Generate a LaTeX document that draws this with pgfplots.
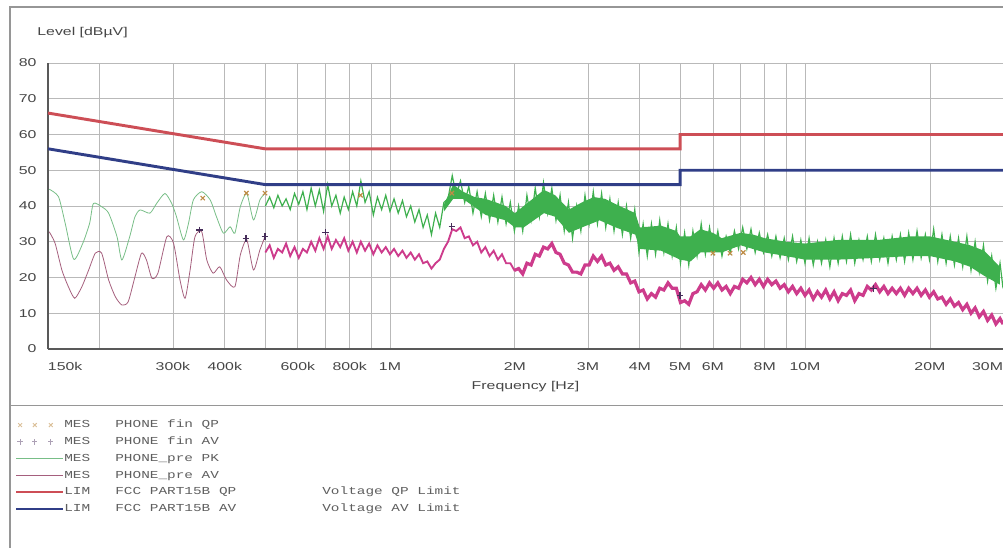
\documentclass[border=0pt]{standalone}
\usepackage{fontspec}
\setmainfont{Liberation Sans}[FakeStretch=1.4]
\newfontfamily\legfont{Liberation Mono}[FakeStretch=1.35]
\usepackage{pgfplots}
\usepackage{pgfplotstable}
\pgfplotsset{compat=1.18}

\definecolor{qpred}{RGB}{205,78,86}
\definecolor{avblue}{RGB}{48,62,135}
\definecolor{pkgreen}{RGB}{62,176,78}
\definecolor{pklight}{RGB}{120,190,135}
\definecolor{avmag}{RGB}{205,60,140}
\definecolor{avlight}{RGB}{165,95,125}
\definecolor{qpmark}{RGB}{190,140,70}
\definecolor{avmark}{RGB}{70,45,90}
\definecolor{gridc}{RGB}{185,185,185}
\definecolor{txt}{RGB}{70,70,70}
\definecolor{legtxt}{RGB}{95,95,95}
\definecolor{frame}{RGB}{150,150,150}

\pgfplotsset{
  markslegend/.style={legend image code/.code={%
    \draw[##1] plot coordinates {(3pt,0pt) (14pt,0pt) (26pt,0pt)};
    \path[draw=none, fill=none] (0pt,0pt) rectangle (35.25pt,0.1pt);}},
  linelegend/.style={legend image code/.code={%
    \draw[##1] (0pt,0pt) -- (35.25pt,0pt);}},
}

% low range, 150 kHz - 500 kHz (MHz, dBuV)
\pgfplotstableread{
f pk
0.151 44.7
0.159 42.6
0.165 35.2
0.173 25.1
0.182 29.6
0.189 35.2
0.193 40.7
0.202 39.8
0.210 38.0
0.220 31.4
0.226 24.9
0.236 31.4
0.243 37.0
0.250 38.9
0.264 38.0
0.274 40.7
0.287 43.5
0.298 40.7
0.306 37.0
0.318 30.5
0.327 35.1
0.336 41.7
0.352 44.0
0.369 41.7
0.382 37.0
0.397 32.4
0.412 34.2
0.423 32.4
0.436 39.8
0.452 43.5
0.469 36.1
0.486 41.7
0.500 43.5
}\lowpk

\pgfplotstableread{
f av
0.151 32.8
0.156 29.6
0.162 22.1
0.168 17.4
0.174 14.2
0.181 17.4
0.188 22.1
0.195 26.8
0.202 26.8
0.210 19.3
0.218 14.6
0.226 12.3
0.234 13.2
0.243 20.2
0.252 26.8
0.259 24.9
0.267 19.8
0.276 21.2
0.290 31.4
0.301 29.6
0.312 19.3
0.321 14.2
0.330 22.1
0.339 31.4
0.352 32.8
0.362 24.9
0.375 21.2
0.389 23.0
0.404 19.3
0.423 17.4
0.436 26.3
0.452 30.5
0.469 22.1
0.486 27.7
0.500 31.4
}\lowav

% 500 kHz - 30 MHz
\pgfplotstableread{
f pk av
0.501 40 27
0.513 42.5 29
0.525 39.5 25.5
0.537 43 28
0.550 40 27
0.562 42 29.5
0.575 39 26
0.589 43.5 28.5
0.603 40.5 25.5
0.617 44 28
0.631 39 27
0.646 45 30
0.661 40 27.5
0.676 44.5 31
0.692 38.5 28
0.708 46 31.5
0.724 40 28
0.741 43 30.5
0.759 38 28.5
0.776 42.5 31
0.794 39 27.5
0.813 44 30
0.832 40 27
0.851 47 30
0.871 41 27.5
0.891 44 29.5
0.912 37.5 26.5
0.933 42.5 29
0.955 39 27
0.977 43 28.5
1.000 38.5 26.5
1.023 42 28
1.047 38 26
1.072 41.5 27.5
1.096 37 25.5
1.122 40 27
1.148 35.5 25
1.175 39 26.5
1.202 34 24
1.230 37.5 24.5
1.259 32 22.5
1.288 38 24
1.318 34 25
1.349 41 28
1.380 42 30
1.413 48.5 33.5
1.445 43 33
1.479 47 34
1.514 41 31
1.549 45.5 31.5
1.585 38 29
1.622 44 30
1.660 37 27
1.698 43.5 28.5
1.738 36 26
1.778 43 27.5
1.820 35.5 25
1.862 42.5 26.5
1.905 35 24
1.950 41 24
1.995 33 22
2.042 40 22.5
2.089 33 21
2.138 43 24
2.188 36 23.5
2.239 45 26.5
2.291 37 26
2.344 46.5 28.5
2.399 38 28
2.455 45 29.5
2.512 36 27
2.570 43 26.5
2.630 33 24
2.692 41 23.5
2.754 31 21.5
2.818 40 21.5
2.884 33 21
2.951 43 23.5
3.020 35 23.5
3.090 44 26
3.162 35 24.5
3.236 43.5 26
3.311 34 23.5
3.388 42 24
3.467 33 22
3.548 41 23
3.631 32 21
3.715 40 21
3.802 31 18.5
3.890 39 19
3.981 27 16
4.074 35 16.5
4.169 26 14
4.266 35 15.5
4.365 26.5 14.5
4.467 36 17
4.571 27 16.5
4.677 35 18.5
4.786 26 17
4.898 34 17
5.012 24 13
5.129 32.5 13.5
5.248 23.5 12.5
5.370 33 15.5
5.495 26 16
5.623 35 18
5.754 26.5 16.5
5.888 34 18.5
6.026 27 17
6.166 33 18.5
6.310 26 16.5
6.457 31.5 17.5
6.607 27 15.5
6.761 33 17.5
6.918 28 17
7.079 34 19.5
7.244 28 18.5
7.413 33.5 20
7.586 27 18
7.762 32.5 19.5
7.943 27 17.5
8.128 32 19.5
8.318 26 18
8.511 31.5 19
8.710 25.5 17
8.913 31 18
9.120 25 16
9.333 31.5 17.5
9.550 24.5 15.5
9.772 30.5 17
10.00 24 15
10.23 31 16.5
10.47 23.5 14
10.72 30 16
10.96 24 14.5
11.22 30.5 16.5
11.48 23 14
11.75 31 16
12.02 24 13.5
12.30 31.5 15.5
12.59 24.5 15
12.88 32 16.5
13.18 24 13.5
13.49 30.5 15.5
13.80 25 15
14.13 31.5 17.5
14.45 24.5 16.5
14.79 32 18
15.14 25 16
15.49 31 17.5
15.85 24 15.5
16.22 31.5 17
16.60 25 15.5
16.98 32 17
17.38 24.5 15
17.78 32.5 17
18.20 25 15.5
18.62 33 17
19.05 25.5 15
19.50 32 16.5
19.95 25 14.5
20.42 33.5 16
20.89 24.5 14
21.38 32 14.5
21.88 24 12.5
22.39 31.5 14
22.91 23.5 12
23.44 31 13
23.99 23 11
24.55 31.5 12.5
25.12 22 10
25.70 30 11.5
26.30 21.5 9
26.92 29 10.5
27.54 19 8
28.18 26 9.5
28.84 17 7
29.51 24 8.5
30.00 17 7
}\main

% solid core of the peak trace (upper edge, then lower edge back)
\pgfplotstableread{
f v
1.35 40.5
1.42 46
1.50 44
1.60 42.5
1.70 42
1.80 41
1.90 40
2.00 38
2.10 40
2.35 44.5
2.50 43
2.70 39
2.90 41
3.10 42.5
3.30 42
3.50 40.5
3.90 38
4.00 34
4.50 34.5
4.90 33
5.00 31.5
5.30 31.5
5.60 33.5
6.00 32.5
6.30 31
7.00 32.5
7.50 32
8.00 31
9.00 30
10.0 29.5
12.0 30.5
15.0 30.5
18.0 31.5
20.0 31.5
23.0 30
25.0 29
27.0 27.5
29.5 23
29.5 18
27.0 20.5
25.0 23
23.0 24.5
20.0 26
18.0 26
15.0 25.5
12.0 25
10.0 25
9.00 26
8.00 27
7.00 29
6.30 27
5.60 27
5.30 24.5
5.00 25
4.50 27.5
4.00 28
3.90 32
3.50 34
3.20 36
2.90 34
2.70 32.5
2.50 37
2.35 38
2.10 34
2.00 34
1.90 36
1.70 37.5
1.50 42
1.42 42
1.35 38.5
}\band

\begin{document}
\begin{tikzpicture}
\useasboundingbox (0,0) rectangle (752.25pt,-411pt);
\begin{axis}[
  at={(36pt,-261.75pt)}, anchor=south west,
  scale only axis, width=716.25pt, height=214.5pt,
  xmode=log, xmin=0.15, xmax=30, ymin=0, ymax=80,
  xtick={0.15,0.2,0.3,0.4,0.5,0.6,0.7,0.8,0.9,1,2,3,4,5,6,7,8,9,10,20,30},
  xticklabels={\hphantom{150k}150k,,300k,400k,,600k,,800k,,1M,2M,3M,4M,5M,6M,,8M,,10M,20M,30M\hphantom{30M}},
  ytick={0,10,...,80},
  grid=major,
  major grid style={gridc, line width=0.6pt},
  tick style={draw=none},
  axis lines=left,
  axis line style={-, line width=1.2pt, black!65},
  /pgf/number format/assume math mode=true,
  ticklabel style={font=\fontsize{8.5}{10}\selectfont, text=txt},
  xticklabel style={yshift=-4.5pt},
  yticklabel style={xshift=-3pt},
  title={Level [dBµV]},
  every axis title shift=0pt,
  title style={at={(axis description cs:-0.016,1.108)}, anchor=west, yshift=0pt,
    font=\fontsize{8.5}{10}\selectfont, text=txt},
  xlabel={Frequency [Hz]},
  xlabel style={at={(axis description cs:0.5,-0.132)}, anchor=center,
    font=\fontsize{8.5}{10}\selectfont, text=txt},
  legend style={at={(axis description cs:-0.0346,-0.245)}, anchor=north west,
    draw=none, fill=none, inner sep=0pt, outer sep=0pt,
    row sep=3.6pt, column sep=0pt,
    font=\legfont\fontsize{8}{9}\selectfont, text=legtxt,
    nodes={inner sep=0pt, text height=6.5pt, text depth=2.5pt}},
  legend cell align=left,
]

% measured traces
\addplot[pklight, line width=0.6pt, smooth, tension=0.4, forget plot] table[x=f, y=pk] {\lowpk};
\addplot[avlight, line width=0.6pt, smooth, tension=0.4, forget plot] table[x=f, y=av] {\lowav};
\addplot[fill=pkgreen, draw=none, forget plot] table[x=f, y=v] {\band};
\addplot[pkgreen, line width=0.9pt, forget plot] table[x=f, y=pk] {\main};
\addplot[avmag, line width=1.4pt, forget plot] table[x=f, y=av] {\main};
\addplot[avmag, line width=2.4pt, forget plot, skip coords between index={0}{60}] table[x=f, y=av] {\main};

% limits
\addplot[qpred, line width=2.2pt, forget plot] coordinates {(0.15,66) (0.5,56) (5,56) (5,60) (30,60)};
\addplot[avblue, line width=2.2pt, forget plot] coordinates {(0.15,56) (0.5,46) (5,46) (5,50) (30,50)};

% final measurements
\addplot[only marks, mark=x, mark size=2.3pt, qpmark, line width=0.9pt, forget plot] coordinates {
  (0.354,42.2) (0.451,43.6) (0.500,43.6) (0.849,43.0) (1.41,43.6) (6.0,26.8) (6.6,26.8) (7.1,27.0)};
\addplot[only marks, mark=+, mark size=2.5pt, avmark, line width=0.9pt, forget plot] coordinates {
  (0.348,33.3) (0.450,31.0) (0.500,31.4) (0.700,32.7) (1.41,34.2) (5.0,15.0) (14.6,17.0)};

% legend
\addlegendimage{only marks, mark=x, mark size=2pt, qpmark!55, line width=0.7pt, markslegend}
\addlegendentry{\makebox[38.25pt][l]{MES}PHONE fin QP}
\addlegendimage{only marks, mark=+, mark size=2pt, avmark!45, line width=0.7pt, markslegend}
\addlegendentry{\makebox[38.25pt][l]{MES}PHONE fin AV}
\addlegendimage{pklight, line width=0.6pt, linelegend}
\addlegendentry{\makebox[38.25pt][l]{MES}PHONE\_pre PK}
\addlegendimage{avlight, line width=0.6pt, linelegend}
\addlegendentry{\makebox[38.25pt][l]{MES}PHONE\_pre AV}
\addlegendimage{qpred, line width=1.8pt, linelegend}
\addlegendentry{\makebox[38.25pt][l]{LIM}\makebox[155.25pt][l]{FCC PART15B QP}Voltage QP Limit}
\addlegendimage{avblue, line width=1.8pt, linelegend}
\addlegendentry{\makebox[38.25pt][l]{LIM}\makebox[155.25pt][l]{FCC PART15B AV}Voltage AV Limit}
\end{axis}

% outer frame and legend separator
\begin{scope}[x=0.75pt, y=-0.75pt]
\draw[frame, line width=0.8pt] (10,548) -- (10,7) -- (1003,7);
\draw[frame, line width=0.6pt] (10,405) -- (1003,405);
\end{scope}
\end{tikzpicture}
\end{document}
